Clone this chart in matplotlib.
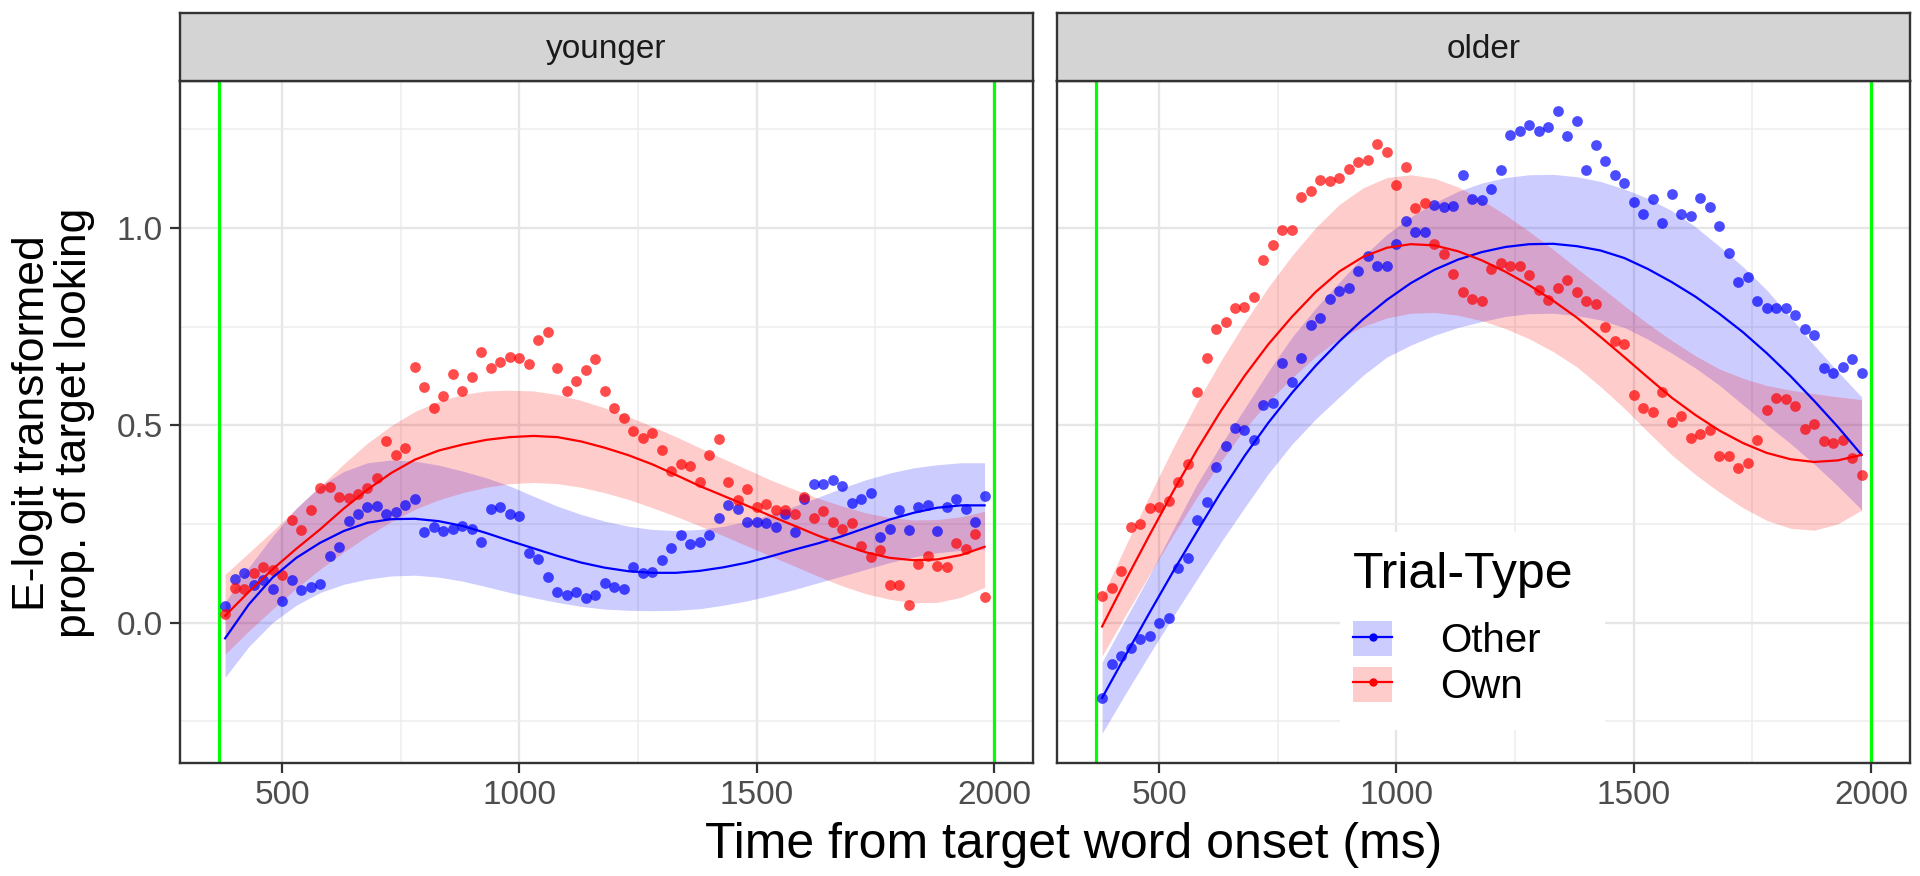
import numpy as np
import matplotlib.pyplot as plt
from matplotlib.lines import Line2D
from matplotlib.patches import Patch, Rectangle
from matplotlib.legend_handler import HandlerTuple

plt.rcParams['font.family'] = ['Liberation Sans', 'DejaVu Sans']

# --- datos ---
# bins de 20 ms desde 380 hasta 1980 ms
tiempo = list(range(380, 1981, 20))
# tiempos donde se leyeron las curvas ajustadas y sus bandas (cada 50 ms)
tiempo_ajuste = list(range(380, 1981, 50))

younger_other = [0.042, 0.111, 0.126, 0.094, 0.108, 0.086, 0.055, 0.108, 0.082, 0.089,
                 0.097, 0.169, 0.192, 0.258, 0.276, 0.292, 0.295, 0.276, 0.281, 0.299,
                 0.313, 0.230, 0.243, 0.233, 0.238, 0.245, 0.237, 0.205, 0.289, 0.293,
                 0.276, 0.270, 0.177, 0.162, 0.116, 0.078, 0.070, 0.078, 0.063, 0.070,
                 0.099, 0.091, 0.086, 0.142, 0.125, 0.128, 0.158, 0.190, 0.222, 0.198,
                 0.205, 0.222, 0.266, 0.297, 0.287, 0.256, 0.255, 0.253, 0.243, 0.275,
                 0.229, 0.313, 0.352, 0.351, 0.361, 0.346, 0.302, 0.312, 0.329, 0.216,
                 0.236, 0.285, 0.234, 0.293, 0.297, 0.231, 0.293, 0.314, 0.289, 0.255,
                 0.320]
younger_own = [0.022, 0.087, 0.084, 0.125, 0.142, 0.133, 0.120, 0.261, 0.234, 0.285,
               0.342, 0.344, 0.317, 0.315, 0.325, 0.341, 0.367, 0.459, 0.424, 0.442,
               0.647, 0.597, 0.544, 0.573, 0.630, 0.586, 0.622, 0.685, 0.645, 0.660,
               0.672, 0.670, 0.656, 0.717, 0.736, 0.645, 0.586, 0.611, 0.639, 0.667,
               0.586, 0.544, 0.519, 0.486, 0.467, 0.480, 0.438, 0.383, 0.401, 0.397,
               0.355, 0.424, 0.465, 0.355, 0.310, 0.338, 0.293, 0.300, 0.286, 0.285,
               0.275, 0.319, 0.264, 0.283, 0.255, 0.238, 0.253, 0.194, 0.165, 0.184,
               0.095, 0.095, 0.045, 0.148, 0.168, 0.144, 0.141, 0.201, 0.186, 0.225,
               0.065]
older_other = [-0.191, -0.105, -0.085, -0.065, -0.042, -0.035, -0.002, 0.012, 0.139, 0.163,
               0.261, 0.306, 0.394, 0.447, 0.492, 0.489, 0.462, 0.552, 0.557, 0.658,
               0.609, 0.671, 0.755, 0.773, 0.820, 0.841, 0.847, 0.891, 0.929, 0.903,
               0.903, 0.959, 1.017, 0.990, 0.990, 1.058, 1.053, 1.056, 1.135, 1.074,
               1.071, 1.100, 1.148, 1.235, 1.245, 1.260, 1.245, 1.257, 1.296, 1.232,
               1.270, 1.146, 1.211, 1.170, 1.135, 1.115, 1.066, 1.036, 1.073, 1.012,
               1.085, 1.036, 1.031, 1.077, 1.054, 1.005, 0.937, 0.864, 0.876, 0.814,
               0.798, 0.798, 0.796, 0.779, 0.743, 0.728, 0.646, 0.633, 0.648, 0.668,
               0.633]
older_own = [0.067, 0.088, 0.131, 0.241, 0.249, 0.291, 0.294, 0.308, 0.356, 0.402,
             0.584, 0.671, 0.745, 0.761, 0.796, 0.801, 0.825, 0.919, 0.956, 0.996,
             0.996, 1.079, 1.094, 1.121, 1.119, 1.127, 1.150, 1.168, 1.173, 1.214,
             1.192, 1.110, 1.155, 1.051, 1.064, 0.959, 0.934, 0.883, 0.837, 0.821,
             0.814, 0.895, 0.911, 0.903, 0.903, 0.880, 0.842, 0.818, 0.849, 0.867,
             0.839, 0.816, 0.808, 0.750, 0.714, 0.706, 0.577, 0.544, 0.533, 0.585,
             0.508, 0.523, 0.469, 0.477, 0.488, 0.421, 0.421, 0.391, 0.405, 0.462,
             0.539, 0.568, 0.566, 0.549, 0.490, 0.503, 0.459, 0.454, 0.462, 0.416,
             0.374]

# curvas ajustadas (modelo) y bandas de confianza
younger_other_fit = [-0.040, 0.046, 0.114, 0.164, 0.202, 0.232, 0.253, 0.262, 0.263, 0.257,
                     0.245, 0.227, 0.207, 0.188, 0.169, 0.152, 0.139, 0.130, 0.126, 0.126,
                     0.131, 0.140, 0.152, 0.168, 0.185, 0.201, 0.219, 0.240, 0.261, 0.278,
                     0.291, 0.297, 0.297]
younger_other_lo = [-0.139, -0.061, 0.000, 0.044, 0.076, 0.097, 0.110, 0.118, 0.120, 0.115,
                    0.105, 0.091, 0.076, 0.063, 0.051, 0.041, 0.034, 0.031, 0.030, 0.031,
                    0.035, 0.044, 0.055, 0.069, 0.084, 0.101, 0.118, 0.135, 0.152, 0.166,
                    0.177, 0.183, 0.185]
younger_other_hi = [0.051, 0.140, 0.219, 0.290, 0.346, 0.383, 0.405, 0.412, 0.409, 0.399,
                    0.384, 0.367, 0.346, 0.320, 0.295, 0.274, 0.257, 0.244, 0.236, 0.233,
                    0.236, 0.244, 0.257, 0.274, 0.295, 0.318, 0.341, 0.362, 0.379, 0.392,
                    0.400, 0.405, 0.405]
younger_own_fit = [0.017, 0.078, 0.135, 0.187, 0.236, 0.289, 0.337, 0.379, 0.413, 0.436,
                   0.451, 0.463, 0.470, 0.473, 0.470, 0.459, 0.443, 0.424, 0.401, 0.374,
                   0.346, 0.321, 0.296, 0.270, 0.245, 0.220, 0.198, 0.178, 0.164, 0.158,
                   0.160, 0.171, 0.192]
younger_own_lo = [-0.080, -0.021, 0.034, 0.087, 0.135, 0.179, 0.219, 0.256, 0.287, 0.311,
                  0.329, 0.343, 0.352, 0.355, 0.352, 0.343, 0.329, 0.312, 0.291, 0.269,
                  0.245, 0.220, 0.194, 0.168, 0.143, 0.117, 0.093, 0.073, 0.059, 0.050,
                  0.051, 0.064, 0.089]
younger_own_hi = [0.122, 0.177, 0.232, 0.289, 0.345, 0.402, 0.455, 0.499, 0.535, 0.561,
                  0.578, 0.587, 0.589, 0.587, 0.578, 0.563, 0.544, 0.522, 0.497, 0.471,
                  0.443, 0.415, 0.388, 0.361, 0.337, 0.315, 0.295, 0.278, 0.266, 0.260,
                  0.261, 0.268, 0.282]
older_other_fit = [-0.191, -0.082, 0.025, 0.130, 0.231, 0.330, 0.422, 0.506, 0.582, 0.651,
                   0.713, 0.769, 0.818, 0.860, 0.894, 0.920, 0.939, 0.952, 0.959, 0.960,
                   0.954, 0.943, 0.924, 0.896, 0.863, 0.826, 0.783, 0.736, 0.683, 0.625,
                   0.562, 0.496, 0.425]
older_other_lo = [-0.281, -0.179, -0.080, 0.016, 0.110, 0.203, 0.291, 0.377, 0.452, 0.516,
                  0.572, 0.627, 0.673, 0.703, 0.728, 0.748, 0.763, 0.776, 0.783, 0.784,
                  0.778, 0.767, 0.748, 0.718, 0.683, 0.645, 0.602, 0.552, 0.502, 0.454,
                  0.402, 0.346, 0.286]
older_other_hi = [-0.100, 0.010, 0.120, 0.237, 0.351, 0.450, 0.542, 0.636, 0.723, 0.797,
                  0.863, 0.928, 0.984, 1.028, 1.064, 1.093, 1.114, 1.128, 1.135, 1.136,
                  1.130, 1.118, 1.099, 1.075, 1.044, 1.003, 0.954, 0.902, 0.843, 0.774,
                  0.703, 0.636, 0.572]
older_own_fit = [-0.010, 0.108, 0.222, 0.333, 0.438, 0.536, 0.625, 0.705, 0.775, 0.838,
                 0.890, 0.927, 0.950, 0.959, 0.956, 0.941, 0.918, 0.889, 0.855, 0.816,
                 0.773, 0.724, 0.673, 0.621, 0.570, 0.526, 0.487, 0.455, 0.430, 0.414,
                 0.407, 0.411, 0.425]
older_own_lo = [-0.085, 0.020, 0.122, 0.222, 0.318, 0.408, 0.490, 0.560, 0.620, 0.675,
                0.720, 0.751, 0.772, 0.784, 0.786, 0.779, 0.765, 0.745, 0.719, 0.687,
                0.648, 0.598, 0.543, 0.483, 0.425, 0.375, 0.331, 0.291, 0.259, 0.239,
                0.234, 0.250, 0.285]
older_own_hi = [0.065, 0.196, 0.322, 0.444, 0.558, 0.663, 0.760, 0.850, 0.930, 1.001,
                1.060, 1.102, 1.128, 1.135, 1.126, 1.104, 1.071, 1.033, 0.991, 0.946,
                0.898, 0.851, 0.803, 0.757, 0.715, 0.676, 0.643, 0.619, 0.601, 0.589,
                0.580, 0.572, 0.565]

ventana = [367, 2000]  # lineas verdes (ms)

azul = '#0000FF'
rojo = '#FF0000'
verde = '#00FF00'
borde = '#333333'

# --- figura ---
W, H = 1920, 876
fig = plt.figure(figsize=(W / 100, H / 100), dpi=100)


def caja(x0, y0, x1, y1):
    # pixeles (desde arriba) -> fraccion de figura
    return [x0 / W, 1 - y1 / H, (x1 - x0) / W, (y1 - y0) / H]


ax1 = fig.add_axes(caja(180, 81, 1033, 763))
ax2 = fig.add_axes(caja(1057, 81, 1910, 763))
st1 = fig.add_axes(caja(180, 13, 1033, 81))
st2 = fig.add_axes(caja(1057, 13, 1910, 81))

datos = {
    'younger': (younger_other, younger_own,
                (younger_other_fit, younger_other_lo, younger_other_hi),
                (younger_own_fit, younger_own_lo, younger_own_hi)),
    'older': (older_other, older_own,
              (older_other_fit, older_other_lo, older_other_hi),
              (older_own_fit, older_own_lo, older_own_hi)),
}

for ax, st, nombre in [(ax1, st1, 'younger'), (ax2, st2, 'older')]:
    otro, propio, aj_otro, aj_propio = datos[nombre]

    # bandas
    ax.fill_between(tiempo_ajuste, aj_otro[1], aj_otro[2], color=azul, alpha=0.2, lw=0, zorder=1)
    ax.fill_between(tiempo_ajuste, aj_propio[1], aj_propio[2], color=rojo, alpha=0.2, lw=0, zorder=1)
    # lineas verdes
    for v in ventana:
        ax.axvline(v, color=verde, lw=2.3, zorder=1.5)
    # puntos
    ax.scatter(tiempo, otro, s=60, color=azul, alpha=0.7, lw=0, zorder=2)
    ax.scatter(tiempo, propio, s=60, color=rojo, alpha=0.7, lw=0, zorder=2)
    # curvas
    ax.plot(tiempo_ajuste, aj_otro[0], color=azul, lw=1.6, zorder=3)
    ax.plot(tiempo_ajuste, aj_propio[0], color=rojo, lw=1.6, zorder=3)

    ax.set_xlim(285, 2082)
    ax.set_ylim(-0.356, 1.3726)
    ax.set_xticks([500, 1000, 1500, 2000])
    ax.set_xticks([750, 1250, 1750], minor=True)
    ax.set_yticks([0.0, 0.5, 1.0])
    ax.set_yticks([-0.25, 0.25, 0.75, 1.25], minor=True)
    ax.grid(True, which='major', color='#E6E6E6', lw=1.7, zorder=0)
    ax.grid(True, which='minor', color='#EDEDED', lw=1.1, zorder=0)
    ax.set_axisbelow(True)
    for sp in ax.spines.values():
        sp.set_color(borde)
        sp.set_linewidth(1.7)
    ax.tick_params(axis='both', which='major', length=7.5, width=1.6, color=borde,
                   labelsize=24, labelcolor='#4D4D4D', pad=5)
    ax.tick_params(axis='both', which='minor', length=0)

    # franja del panel
    st.set_facecolor('#D4D4D4')
    st.set_xticks([])
    st.set_yticks([])
    for sp in st.spines.values():
        sp.set_color(borde)
        sp.set_linewidth(1.7)
    st.text(0.5, 0.47, nombre, transform=st.transAxes, ha='center', va='center',
            fontsize=24, color='#1A1A1A')

ax1.set_yticklabels(['0.0', '0.5', '1.0'])
ax2.tick_params(axis='y', which='major', length=0, labelleft=False)

# titulos de ejes
fig.text(1074 / W, 1 - 845 / H, 'Time from target word onset (ms)', ha='center', va='center',
         fontsize=36)
fig.text(33 / W, 1 - 423 / H, 'E-logit transformed', rotation=90, ha='center', va='center',
         fontsize=32)
fig.text(75 / W, 1 - 423 / H, 'prop. of target looking', rotation=90, ha='center', va='center',
         fontsize=32)

# leyenda: fondo blanco, titulo y entradas
ax2.add_patch(Rectangle((1340 / W, 1 - 730 / H), (1605 - 1340) / W, (730 - 532) / H,
                        transform=fig.transFigure, facecolor='white', edgecolor='none',
                        zorder=4))
ax2.text(1353 / W, 1 - 575 / H, 'Trial-Type', transform=fig.transFigure, fontsize=36,
         ha='left', va='center', zorder=5)
h_otro = (Patch(facecolor=azul, alpha=0.2, edgecolor='none'),
          Line2D([], [], color=azul, lw=1.6, marker='o', ms=6, markeredgewidth=0))
h_propio = (Patch(facecolor=rojo, alpha=0.2, edgecolor='none'),
            Line2D([], [], color=rojo, lw=1.6, marker='o', ms=6, markeredgewidth=0))
leg = ax2.legend([h_otro, h_propio], ['Other', 'Own'],
                 handler_map={tuple: HandlerTuple(ndivide=1, pad=0)},
                 loc='upper left', bbox_to_anchor=(1353 / W, 1 - 621 / H),
                 bbox_transform=fig.transFigure, borderaxespad=0, borderpad=0,
                 fontsize=29, frameon=False,
                 handlelength=0.97, handleheight=0.97, labelspacing=0.155,
                 handletextpad=1.2, numpoints=1)
leg.set_zorder(6)

fig.savefig('out.png', dpi=100)
